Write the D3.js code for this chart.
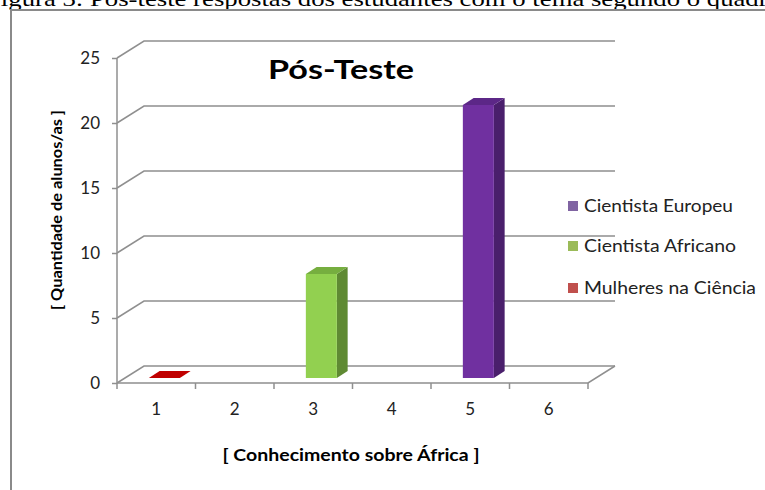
<!DOCTYPE html>
<html>
<head>
<meta charset="utf-8">
<script src="https://cdn.jsdelivr.net/npm/d3@7"></script>
<style>
  html, body { margin: 0; padding: 0; background: #fff; }
  svg { display: block; }
</style>
</head>
<body>
<script>
// ---------- data ----------
const categories = ["1", "2", "3", "4", "5", "6"];
const seriesNames = ["Cientista Europeu", "Cientista Africano", "Mulheres na Ciência"];
const europeu  = [null, null, null, null, 21, null];
const africano = [null, null, 8, null, null, null];
const mulheres = [0, null, null, null, null, null];
const yTicks = [0, 5, 10, 15, 20, 25];
const title = "Pós-Teste";
const yTitle = "[ Quantidade de alunos/as ]";
const xTitle = "[ Conhecimento sobre África ]";
const caption = "Figura 3: Pós-teste respostas dos estudantes com o tema segundo o quadro";

// ---------- setup ----------
const W = 765, H = 490;
const svg = d3.select("body").append("svg").attr("width", W).attr("height", H);

const font = "Lato, 'Open Sans', sans-serif";
const gridColor = "#8f8f8f";

// caption (cut off at top, as in the source page) and frame
svg.append("text").attr("x", -14).attr("y", 6)
  .attr("font-family", "'Liberation Serif', 'Times New Roman', serif")
  .attr("font-size", 22).attr("fill", "#000")
  .attr("textLength", 795).attr("lengthAdjust", "spacingAndGlyphs").text(caption);
svg.append("path").attr("d", `M11,490 L11,10 L765,10`)
  .attr("fill", "none").attr("stroke", "#8a8a8a").attr("stroke-width", 2);

// 3D geometry
const DX = 27, DY = -17;           // depth offset (front -> back)
const x = d3.scaleBand().domain(categories).range([117, 588]).paddingInner(0).paddingOuter(0);
const y = d3.scaleLinear().domain([0, 25]).range([383, 58]);
const proj = (px, py, d) => [px + d * DX, py + d * DY];

const g = svg.append("g");

// back wall gridlines + left wall diagonals
yTicks.forEach(t => {
  const yy = y(t);
  const a = proj(117, yy, 0), b = proj(117, yy, 1), c = proj(588, yy, 1);
  g.append("path").attr("d", `M${a}L${b}L${c}`)
    .attr("fill", "none").attr("stroke", gridColor).attr("stroke-width", 1.5);
});
// floor
{
  const fl = proj(117, y(0), 0), fr = proj(588, y(0), 0), br = proj(588, y(0), 1);
  g.append("path").attr("d", `M${fl}L${fr}L${br}`)
    .attr("fill", "none").attr("stroke", gridColor).attr("stroke-width", 1.5);
}
// front vertical axis
g.append("line").attr("x1", 117).attr("x2", 117).attr("y1", y(25)).attr("y2", y(0))
  .attr("stroke", gridColor).attr("stroke-width", 1.5);

// y axis ticks and labels
const yAxis = d3.axisLeft(y).tickValues(yTicks).tickSize(5).tickPadding(12);
const ya = svg.append("g").attr("transform", "translate(117,0)").call(yAxis);
ya.select(".domain").remove();
ya.selectAll(".tick line").attr("stroke", gridColor).attr("stroke-width", 1.5);
ya.selectAll(".tick text").attr("font-family", font).attr("font-size", 17).attr("fill", "#222");

// x axis ticks and labels
const tickPos = categories.map(c => x(c)).concat([588]);
tickPos.forEach(px => {
  svg.append("line").attr("x1", px).attr("x2", px).attr("y1", 383).attr("y2", 389)
    .attr("stroke", gridColor).attr("stroke-width", 1.5);
});
const xAxis = d3.axisBottom(x).tickSize(0).tickPadding(20);
const xa = svg.append("g").attr("transform", "translate(0,383)").call(xAxis);
xa.select(".domain").remove();
xa.selectAll(".tick text").attr("font-family", font).attr("font-size", 17).attr("fill", "#222");

// bars
const barColors = [
  { front: "#7030A0", side: "#4A1F6C", top: "#5C2787" },
  { front: "#92D050", side: "#5F8A33", top: "#76AE3F" },
  { front: "#C00000", side: "#8A0000", top: "#C00000" }
];
const seriesData = [europeu, africano, mulheres];
const barW = 31, d0 = 0.3, d1 = 0.7;
seriesData.forEach((vals, si) => {
  vals.forEach((v, ci) => {
    if (v === null) return;
    const cx = x(categories[ci]) + x.bandwidth() / 2;
    const xl = cx - barW / 2, xr = cx + barW / 2;
    const yb = y(0), yt = y(v);
    const col = barColors[si];
    const p = (px, py, d) => proj(px, py, d).join(",");
    if (v > 0) {
      g.append("path").attr("d",
        `M${p(xr, yb, d0)}L${p(xr, yb, d1)}L${p(xr, yt, d1)}L${p(xr, yt, d0)}Z`)
        .attr("fill", col.side);
      g.append("path").attr("d",
        `M${p(xl, yb, d0)}L${p(xr, yb, d0)}L${p(xr, yt, d0)}L${p(xl, yt, d0)}Z`)
        .attr("fill", col.front);
    }
    g.append("path").attr("d",
      `M${p(xl, yt, d0)}L${p(xr, yt, d0)}L${p(xr, yt, d1)}L${p(xl, yt, d1)}Z`)
      .attr("fill", col.top);
  });
});

// title
svg.append("text").attr("x", 341).attr("y", 79).attr("text-anchor", "middle")
  .attr("font-family", font).attr("font-weight", "bold").attr("font-size", 27)
  .attr("textLength", 146).attr("lengthAdjust", "spacingAndGlyphs")
  .attr("fill", "#000").text(title);

// axis titles
svg.append("text").attr("transform", "translate(62,210) rotate(-90)")
  .attr("text-anchor", "middle").attr("font-family", font).attr("font-weight", "bold")
  .attr("font-size", 15).attr("textLength", 200).attr("lengthAdjust", "spacingAndGlyphs")
  .attr("fill", "#000").text(yTitle);
svg.append("text").attr("x", 351).attr("y", 461).attr("text-anchor", "middle")
  .attr("font-family", font).attr("font-weight", "bold")
  .attr("font-size", 17).attr("textLength", 257).attr("lengthAdjust", "spacingAndGlyphs")
  .attr("fill", "#000").text(xTitle);

// legend
const legendColors = ["#8064A2", "#9BBB59", "#C0504D"];
const legendY = [206, 246, 288];
const legendLen = [149, 152, 172];
seriesNames.forEach((n, i) => {
  svg.append("rect").attr("x", 568).attr("y", legendY[i] - 5).attr("width", 10).attr("height", 10)
    .attr("fill", legendColors[i]);
  svg.append("text").attr("x", 584).attr("y", legendY[i] + 6)
    .attr("font-family", font).attr("font-size", 18).attr("fill", "#222")
    .attr("textLength", legendLen[i]).attr("lengthAdjust", "spacingAndGlyphs").text(n);
});
</script>
</body>
</html>
